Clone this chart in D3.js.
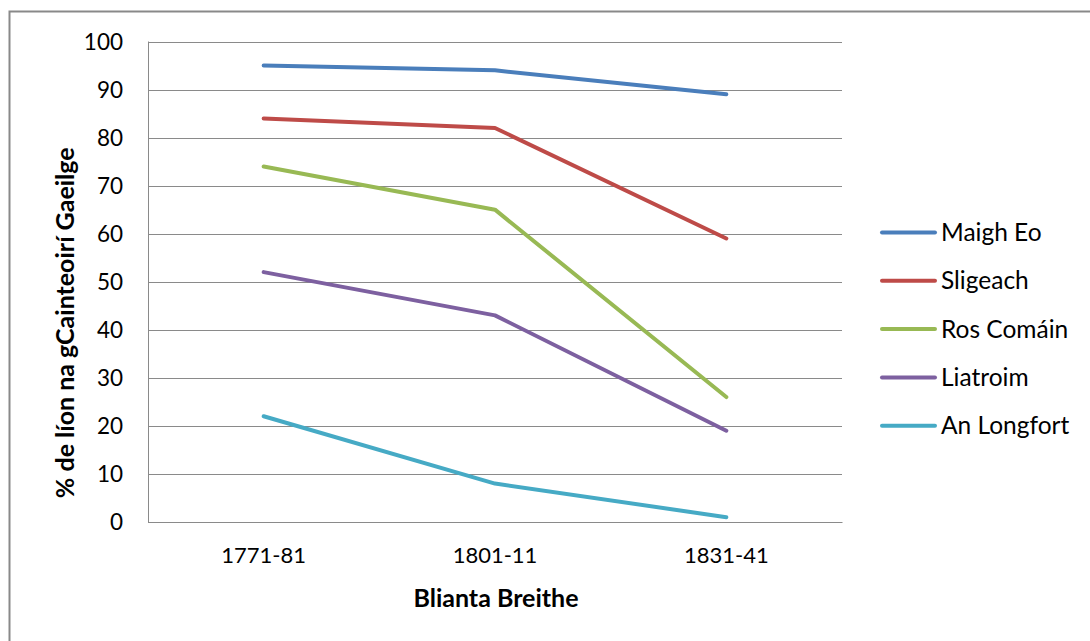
<!DOCTYPE html>
<html>
<head>
<meta charset="utf-8">
<script src="https://cdn.jsdelivr.net/npm/d3@7"></script>
<style>
  html, body { margin: 0; padding: 0; background: #fff; }
  svg { display: block; }
  text { font-family: Lato, "Open Sans", sans-serif; fill: #000; }
</style>
</head>
<body>
<svg id="chart" width="1090" height="641"></svg>
<script>
const categories = ["1771-81", "1801-11", "1831-41"];
const seriesNames = ["Maigh Eo", "Sligeach", "Ros Comáin", "Liatroim", "An Longfort"];
const maighEo   = [95, 94, 89];
const sligeach  = [84, 82, 59];
const rosComain = [74, 65, 26];
const liatroim  = [52, 43, 19];
const anLongfort = [22, 8, 1];
const seriesColors = ["#4A7EBB", "#BE4B48", "#98B954", "#7D60A0", "#46AAC5"];
const yTicks = [0, 10, 20, 30, 40, 50, 60, 70, 80, 90, 100];
const yTitle = "% de líon na gCainteoirí Gaeilge";
const xTitle = "Blianta Breithe";

const seriesValues = [maighEo, sligeach, rosComain, liatroim, anLongfort];
const series = seriesNames.map((n, i) => ({ name: n, values: seriesValues[i], color: seriesColors[i] }));

const svg = d3.select("#chart");

// outer frame (cut off at right & bottom)
svg.append("path")
  .attr("d", "M9.5,700 L9.5,11.5 L1100,11.5")
  .attr("fill", "none").attr("stroke", "#898989").attr("stroke-width", 2);

const plot = { left: 148, right: 842, top: 41.5, bottom: 522 };

const x = d3.scaleBand().domain(categories).range([plot.left, plot.right]);
const y = d3.scaleLinear().domain([0, 100]).range([plot.bottom, plot.top]);

// gridlines
svg.append("g").selectAll("line").data(yTicks).join("line")
  .attr("x1", plot.left).attr("x2", plot.right)
  .attr("y1", d => Math.round(y(d)) + 0.5).attr("y2", d => Math.round(y(d)) + 0.5)
  .attr("stroke", "#8a8a8a").attr("stroke-width", 1);

// y axis line
svg.append("line")
  .attr("x1", plot.left + 0.5).attr("x2", plot.left + 0.5)
  .attr("y1", plot.top).attr("y2", plot.bottom + 0.5)
  .attr("stroke", "#8a8a8a").attr("stroke-width", 1);

// y axis labels
const yAxis = d3.axisLeft(y).tickValues(yTicks).tickSize(0).tickPadding(25);
const gy = svg.append("g").attr("transform", `translate(${plot.left},0)`).call(yAxis);
gy.select(".domain").remove();
gy.selectAll("text").attr("font-size", 22.5).attr("font-family", "Lato").attr("fill", "#000").attr("dy", "0.35em");

// x axis labels
const xAxis = d3.axisBottom(x).tickSize(0).tickPadding(25);
const gx = svg.append("g").attr("transform", `translate(0,${plot.bottom})`).call(xAxis);
gx.select(".domain").attr("stroke", "#8a8a8a");
gx.selectAll("text").attr("font-size", 22).attr("font-family", "Lato").attr("fill", "#000");

// lines
const line = d3.line()
  .x((d, i) => x(categories[i]) + x.bandwidth() / 2)
  .y(d => y(d));

svg.append("g").selectAll("path").data(series).join("path")
  .attr("d", d => line(d.values))
  .attr("fill", "none")
  .attr("stroke", d => d.color)
  .attr("stroke-width", 4)
  .attr("stroke-linecap", "round")
  .attr("stroke-linejoin", "round");

// axis titles
svg.append("text")
  .attr("transform", `translate(74,${(plot.top + plot.bottom) / 2 + 41}) rotate(-90)`)
  .attr("text-anchor", "middle")
  .attr("font-size", 25).attr("font-weight", "bold")
  .text(yTitle);

svg.append("text")
  .attr("x", 496).attr("y", 607)
  .attr("text-anchor", "middle")
  .attr("font-size", 25).attr("font-weight", "bold")
  .text(xTitle);

// legend
const legend = svg.append("g");
const lg = legend.selectAll("g").data(series).join("g")
  .attr("transform", (d, i) => `translate(882,${232.5 + i * 48.3})`);
lg.append("line").attr("x1", 0).attr("x2", 53).attr("y1", 0).attr("y2", 0)
  .attr("stroke", d => d.color).attr("stroke-width", 4).attr("stroke-linecap", "round");
lg.append("text").attr("x", 59).attr("dy", "0.35em").attr("font-size", 24.5)
  .text(d => d.name);
</script>
</body>
</html>
